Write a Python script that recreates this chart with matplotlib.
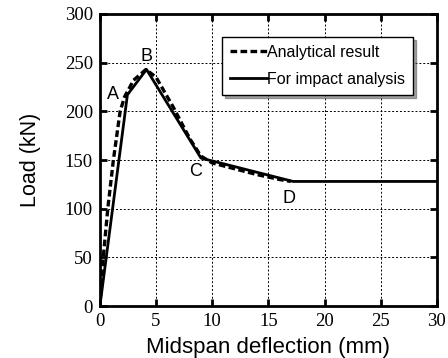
import matplotlib
matplotlib.use("Agg")
import matplotlib.pyplot as plt

# Data
analytical_x = [0, 0.3, 0.7, 1.2, 1.8, 2.2, 3.0, 4.1, 5.0, 6.5, 8.0, 9.0, 10.0, 12.0, 14.0, 16.0, 17.0]
analytical_y = [0, 50, 100, 150, 200, 215, 232, 243, 235, 205, 172, 154, 147, 141, 135, 130, 128]
impact_x = [0, 2.45, 4.15, 9.0, 17.2, 30]
impact_y = [0, 217, 243, 152, 128, 128]
point_labels = ["A", "B", "C", "D"]
point_label_x = [1.2, 4.15, 8.5, 16.8]
point_label_y = [217, 256, 138, 111]
xticks = [0, 5, 10, 15, 20, 25, 30]
yticks = [0, 50, 100, 150, 200, 250, 300]

fig = plt.figure(figsize=(4.48, 3.58), dpi=100)
ax = fig.add_axes([0.223, 0.145, 0.752, 0.816])

ax.plot(analytical_x, analytical_y, color="black", lw=2.4, ls=(0, (2, 1)), label="Analytical result")
ax.plot(impact_x, impact_y, color="black", lw=2.0, ls="-", label="For impact analysis")

for t, x, y in zip(point_labels, point_label_x, point_label_y):
    ax.text(x, y, t, fontsize=13, family="Liberation Sans", ha="center", va="center")

ax.set_xlim(0, 30)
ax.set_ylim(0, 300)
ax.set_xticks(xticks)
ax.set_yticks(yticks)
ax.grid(True, color="black", ls=(0, (2, 2)), lw=0.7)
ax.tick_params(direction="in", length=5, width=2, top=True, right=True, labelsize=13.5, pad=5)
for lab in ax.get_xticklabels() + ax.get_yticklabels():
    lab.set_family("Liberation Serif")
for s in ax.spines.values():
    s.set_linewidth(2)

ax.set_xlabel("Midspan deflection (mm)", fontsize=16, family="Liberation Sans", labelpad=5)
ax.set_ylabel("Load (kN)", fontsize=15.5, family="Liberation Sans", labelpad=17)

leg = ax.legend(loc="upper right", bbox_to_anchor=(0.929, 0.921), prop={"family": "Liberation Sans", "size": 11.5},
                fancybox=False, shadow=True, framealpha=1, edgecolor="black",
                handlelength=2.3, handletextpad=0.0, borderpad=0.5, labelspacing=0.75, borderaxespad=0)
leg.get_frame().set_linewidth(1)

fig.savefig("out.png", dpi=100)
